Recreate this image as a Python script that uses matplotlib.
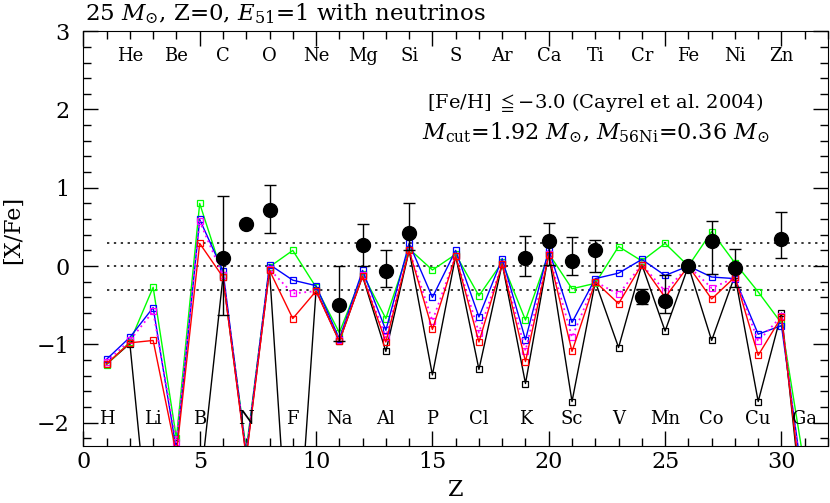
import numpy as np
import matplotlib
matplotlib.use("Agg")
import matplotlib.pyplot as plt

plt.rcParams['font.family'] = ['DejaVu Serif', 'DejaVu Sans']
plt.rcParams['mathtext.fontset'] = 'dejavuserif'

# model yields [X/Fe] for Z = 1..31
Z = np.arange(1, 32)
black = [-1.25, -0.99, -4.0, -5.0, -2.87, -0.14, -2.42, -0.05, -4.6, -0.31,
         -0.96, -0.13, -1.09, 0.20, -1.39, 0.13, -1.32, 0.03, -1.50, 0.16,
         -1.73, -0.20, -1.04, 0.02, -0.83, 0.0, -0.95, -0.12, -1.73, -0.60, -3.39]
red = [-1.25, -0.98, -0.95, -2.4, 0.29, -0.14, -2.45, -0.055, -0.67, -0.32,
       -0.96, -0.13, -0.97, 0.20, -0.81, 0.13, -0.97, 0.03, -1.22, 0.145,
       -1.09, -0.20, -0.48, 0.02, -0.40, 0.0, -0.42, -0.14, -1.14, -0.65, -3.23]
magenta = [-1.22, -0.95, -0.58, -2.25, 0.57, -0.12, -2.4, -0.04, -0.35, -0.32,
           -0.95, -0.12, -0.91, 0.21, -0.70, 0.13, -0.85, 0.03, -1.08, 0.15,
           -0.91, -0.20, -0.36, 0.02, -0.32, 0.0, -0.28, -0.15, -0.96, -0.64, -3.1]
blue = [-1.19, -0.91, -0.53, -2.35, 0.595, -0.06, -2.4, 0.02, -0.18, -0.25,
        -0.93, -0.055, -0.82, 0.29, -0.40, 0.20, -0.65, 0.095, -0.94, 0.21,
        -0.72, -0.16, -0.09, 0.085, -0.12, 0.0, -0.14, -0.16, -0.87, -0.76, -2.93]
green = [-1.26, -0.97, -0.27, -2.2, 0.80, -0.12, -2.35, -0.01, 0.20, -0.27,
         -0.85, -0.10, -0.67, 0.22, -0.05, 0.15, -0.38, 0.05, -0.69, 0.16,
         -0.29, -0.22, 0.25, 0.065, 0.29, 0.0, 0.44, 0.04, -0.33, -0.73, -2.58]

# Cayrel et al. 2004 abundances
obs_z = [6, 7, 8, 11, 12, 13, 14, 19, 20, 21, 22, 24, 25, 26, 27, 28, 30]
obs_y = [0.10, 0.535, 0.72, -0.50, 0.27, -0.06, 0.42, 0.10, 0.32, 0.06,
         0.21, -0.39, -0.44, 0.0, 0.32, -0.03, 0.34]
obs_lo = [0.72, 0, 0.30, 0.46, 0.27, 0.21, 0.22, 0.23, 0.30, 0.17,
          0.28, 0.09, 0.16, 0, 0.42, 0.24, 0.24]
obs_hi = [0.79, 0, 0.32, 0.50, 0.27, 0.27, 0.39, 0.28, 0.23, 0.31,
          0.12, 0.10, 0.32, 0, 0.25, 0.25, 0.35]

top_names = ['He', 'Be', 'C', 'O', 'Ne', 'Mg', 'Si', 'S', 'Ar', 'Ca',
             'Ti', 'Cr', 'Fe', 'Ni', 'Zn']
bot_names = ['H', 'Li', 'B', 'N', 'F', 'Na', 'Al', 'P', 'Cl', 'K',
             'Sc', 'V', 'Mn', 'Co', 'Cu', 'Ga']

fig = plt.figure(figsize=(8.3, 5.03), dpi=100)
ax = fig.add_axes([0.1004, 0.113, 0.8972, 0.825])

for yy in (0.3, 0.0, -0.3):
    ax.plot([1, 32], [yy, yy], color='black', ls=(0, (1.5, 3)), lw=1.1)

ax.plot(Z, black, color='black', lw=1, marker='s', ms=4.5, mfc='none', mew=0.9)
ax.plot(Z, green, color='#00ff00', lw=1, marker='s', ms=4.5, mfc='none', mew=0.9)
ax.plot(Z, blue, color='#0000ff', lw=1, marker='s', ms=4.5, mfc='none', mew=0.9)
ax.plot(Z, magenta, color='#ff00ff', lw=1.3, ls=(0, (1, 2)), marker='s', ms=4.5,
        mfc='none', mew=0.9)
ax.plot(Z, red, color='#ff0000', lw=1, marker='s', ms=4.5, mfc='none', mew=0.9)

ax.errorbar(obs_z, obs_y, yerr=[obs_lo, obs_hi], fmt='o', color='black',
            ms=10, capsize=4.3, elinewidth=1, capthick=1)

for i, name in enumerate(top_names):
    ax.text(2 * (i + 1), 2.68, name, ha='center', va='center', fontsize=13)
for i, name in enumerate(bot_names):
    ax.text(2 * i + 1, -1.95, name, ha='center', va='center', fontsize=13)

ax.text(22.0, 2.09, r'[Fe/H] $\leqq$$-$3.0 (Cayrel et al. 2004)',
        ha='center', va='center', fontsize=14)
ax.text(22.0, 1.70, r'$M_{\rm cut}$=1.92 $M_{\odot}$, $M_{\rm 56Ni}$=0.36 $M_{\odot}$',
        ha='center', va='center', fontsize=16)

fig.text(0.102, 0.972, r'25 $M_{\odot}$, Z=0, $E_{51}$=1 with neutrinos',
         ha='left', va='center', fontsize=16.5)

ax.set_xlim(0, 32)
ax.set_ylim(-2.3, 3)
ax.set_xticks(np.arange(0, 31, 5))
ax.set_xticks(np.arange(0, 33, 1), minor=True)
ax.set_yticks(np.arange(-2, 4, 1))
ax.set_yticks(np.arange(-2.2, 3.01, 0.2), minor=True)
ax.tick_params(which='both', direction='in', top=True, right=True, labelsize=16)
ax.tick_params(axis='y', which='major', pad=10)
ax.tick_params(which='major', length=11, width=1)
ax.tick_params(which='minor', length=5.5, width=1)
ax.set_xlabel('Z', fontsize=16, labelpad=4)
ax.set_ylabel('[X/Fe]', fontsize=16)
ax.yaxis.set_label_coords(-0.08, 0.52)

fig.savefig('out.png', dpi=100)
